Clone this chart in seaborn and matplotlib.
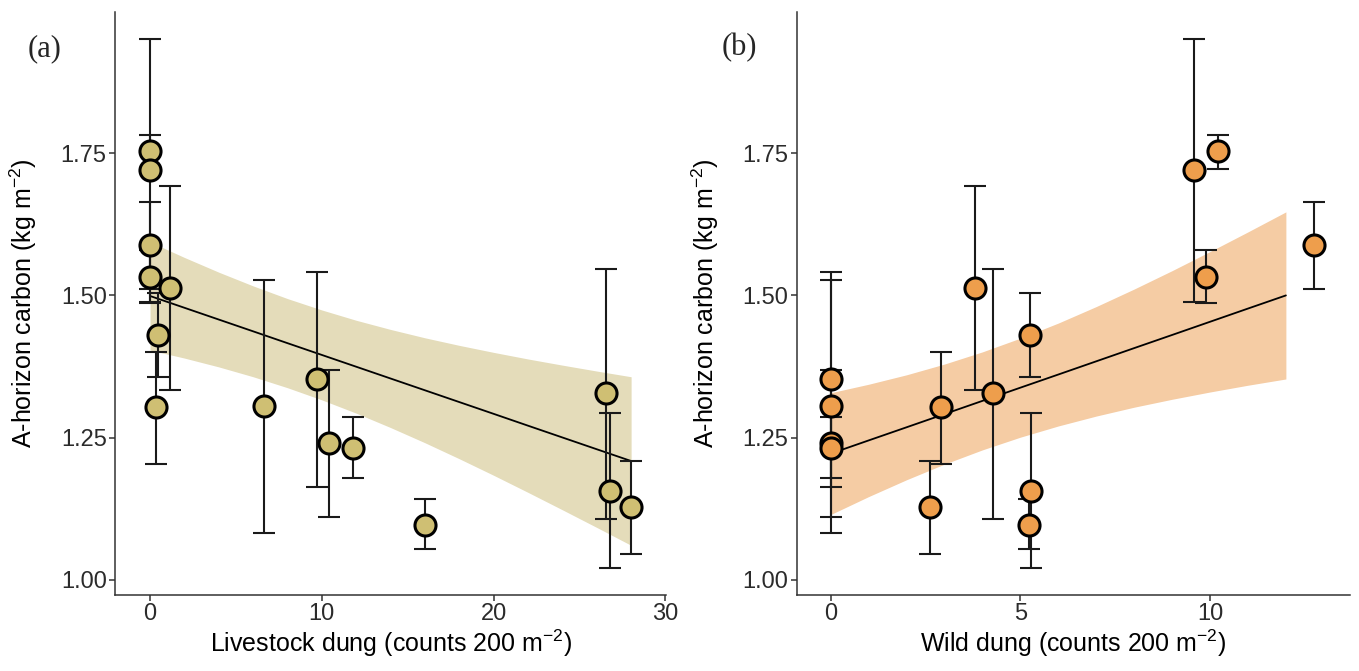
import numpy as np
import pandas as pd
import matplotlib
matplotlib.use("Agg")
import matplotlib.pyplot as plt
import seaborn as sns

# ---- data ----
carbon = [1.753, 1.720, 1.588, 1.533, 1.513, 1.430, 1.304, 1.305, 1.353, 1.240, 1.232, 1.097, 1.328, 1.157, 1.128]
carbon_lo = [1.723, 1.489, 1.511, 1.486, 1.333, 1.356, 1.204, 1.082, 1.163, 1.110, 1.179, 1.054, 1.108, 1.021, 1.045]
carbon_hi = [1.782, 1.951, 1.664, 1.579, 1.692, 1.504, 1.401, 1.527, 1.541, 1.369, 1.286, 1.142, 1.547, 1.293, 1.209]
livestock_dung = [0, 0, 0, 0, 1.16, 0.49, 0.35, 6.66, 9.71, 10.39, 11.84, 16.0, 26.56, 26.75, 28.0]
wild_dung = [10.22, 9.59, 12.73, 9.89, 3.80, 5.26, 2.92, 0, 0, 0, 0, 5.23, 4.28, 5.29, 2.63]

# model fit (prediction line and 95% band) for panel (a)
livestock_fit_x = [0, 2, 4, 6, 8, 10, 12, 14, 16, 18, 20, 22, 24, 26, 28]
livestock_fit = [1.499, 1.4783, 1.4576, 1.4369, 1.4161, 1.3954, 1.3747, 1.3540, 1.3333, 1.3126, 1.2919, 1.2711, 1.2504, 1.2297, 1.209]
livestock_fit_hi = [1.594, 1.5667, 1.5408, 1.5167, 1.4944, 1.4744, 1.4563, 1.4402, 1.4255, 1.4122, 1.3999, 1.3883, 1.3775, 1.3671, 1.3571]
livestock_fit_lo = [1.404, 1.3899, 1.3744, 1.3571, 1.3378, 1.3164, 1.2931, 1.2678, 1.2411, 1.2130, 1.1839, 1.1539, 1.1233, 1.0923, 1.0609]

# model fit for panel (b)
wild_fit_x = [0, 1, 2, 3, 4, 5, 6, 7, 8, 9, 10, 11, 12]
wild_fit = [1.222, 1.2452, 1.2683, 1.2915, 1.3147, 1.3379, 1.3610, 1.3842, 1.4074, 1.4305, 1.4537, 1.4769, 1.5000]
wild_fit_hi = [1.3290, 1.3439, 1.3605, 1.3794, 1.4008, 1.4249, 1.4514, 1.4804, 1.5112, 1.5435, 1.5771, 1.6116, 1.6468]
wild_fit_lo = [1.1150, 1.1465, 1.1761, 1.2036, 1.2286, 1.2509, 1.2706, 1.2880, 1.3036, 1.3175, 1.3303, 1.3422, 1.3532]

left_xticks = [0, 10, 20, 30]
right_xticks = [0, 5, 10]
yticks = [1.00, 1.25, 1.50, 1.75]
ytick_labels = ["1.00", "1.25", "1.50", "1.75"]

# ---- styling ----
sns.set_theme(style="white")
plt.rcParams["font.family"] = ["Liberation Sans", "DejaVu Sans"]
plt.rcParams["mathtext.fontset"] = "custom"
plt.rcParams["mathtext.rm"] = "Liberation Sans"
plt.rcParams["mathtext.it"] = "Liberation Sans:italic"
plt.rcParams["mathtext.default"] = "regular"

df = pd.DataFrame({
    "carbon": carbon, "lo": carbon_lo, "hi": carbon_hi,
    "livestock": livestock_dung, "wild": wild_dung,
})

W, H = 1359, 671
fig = plt.figure(figsize=(W / 100, H / 100), dpi=100)

axcol = "#333333"

def panel(rect, xcol, fit_x, fit, fit_lo, fit_hi, pt_color, band_color,
          xlim, xticks, xlabel, tag, tag_xy):
    ax = fig.add_axes(rect)
    ax.fill_between(fit_x, fit_lo, fit_hi, color=band_color, lw=0, zorder=1)
    sns.lineplot(x=fit_x, y=fit, color="black", lw=1.3, ax=ax, zorder=2)
    y = df["carbon"].values
    ax.errorbar(df[xcol], y, yerr=[y - df["lo"].values, df["hi"].values - y],
                fmt="none", ecolor="#1a1a1a", elinewidth=1.5, capsize=7.8,
                capthick=1.5, zorder=3)
    sns.scatterplot(data=df, x=xcol, y="carbon", color=pt_color, edgecolor="black",
                    linewidth=2.2, s=230, ax=ax, zorder=4, legend=False)
    ax.set_xlim(*xlim)
    ax.set_ylim(0.9736, 1.998)
    ax.set_xticks(xticks)
    ax.set_yticks(yticks)
    ax.set_yticklabels(ytick_labels)
    for s in ["top", "right"]:
        ax.spines[s].set_visible(False)
    for s in ["left", "bottom"]:
        ax.spines[s].set_color(axcol)
        ax.spines[s].set_linewidth(1.1)
    ax.tick_params(axis="both", which="both", direction="out", length=4, width=1.1,
                   color=axcol, labelcolor="#2b2b2b", labelsize=17, pad=2,
                   bottom=True, left=True)
    ax.set_xlabel(xlabel, fontsize=18, color="black")
    ax.set_ylabel("A-horizon carbon (kg m$^{-2}$)", fontsize=18, color="black")
    ax.xaxis.label.set_va("baseline")
    ax.xaxis.set_label_coords(0.5, -0.0973)
    ax.yaxis.label.set_va("center")
    ax.yaxis.set_label_coords(-0.166, 0.5)
    fig.text(tag_xy[0] / W, 1 - tag_xy[1] / H, tag, fontsize=22,
             family=["Liberation Serif", "DejaVu Serif"], ha="center", va="center")
    return ax

panel([115 / W, 1 - 595 / H, (666 - 115) / W, (595 - 12) / H], "livestock",
      livestock_fit_x, livestock_fit, livestock_fit_lo, livestock_fit_hi,
      "#CFBF73", "#E4DCBA", (-2.04, 30.03), left_xticks,
      "Livestock dung (counts 200 m$^{-2}$)", "(a)", (45, 49))

panel([796.7 / W, 1 - 595 / H, (1350 - 796.7) / W, (595 - 12) / H], "wild",
      wild_fit_x, wild_fit, wild_fit_lo, wild_fit_hi,
      "#EE9E4C", "#F5CCA4", (-0.896, 13.69), right_xticks,
      "Wild dung (counts 200 m$^{-2}$)", "(b)", (739, 48))

fig.savefig("out.png", dpi=100)
